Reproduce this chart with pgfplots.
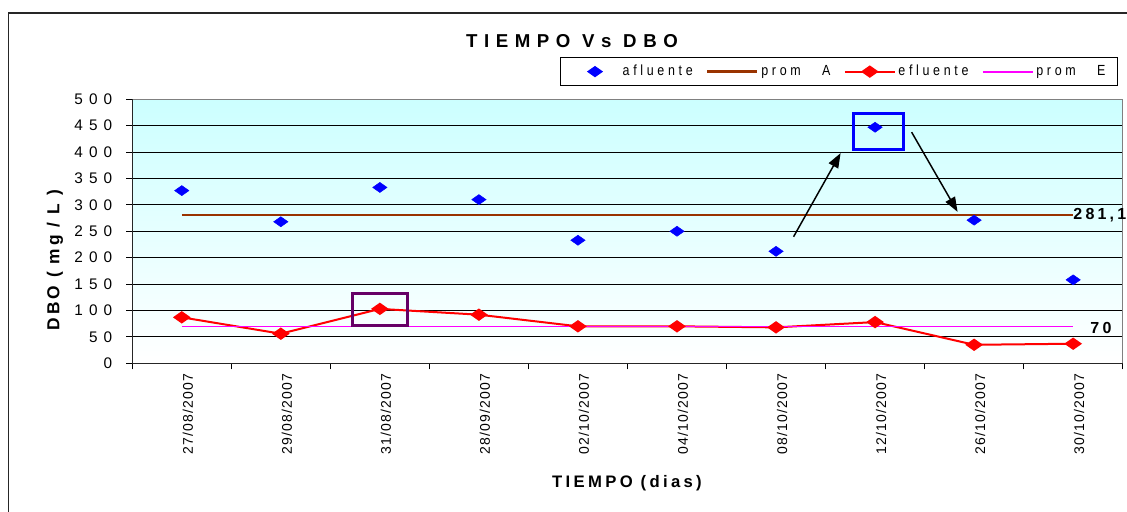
\documentclass[border=0pt]{standalone}
\usepackage{fontspec}
\setmainfont{Liberation Sans}
\newfontfamily\tickf[LetterSpace=40]{Liberation Sans}
\newfontfamily\dataf[LetterSpace=20]{Liberation Sans}
\newfontfamily\datef[LetterSpace=8]{Liberation Sans}
\newfontfamily\titf[LetterSpace=35]{Liberation Sans}
\newfontfamily\labf[LetterSpace=20]{Liberation Sans}
\newfontfamily\ylabf[LetterSpace=18]{Liberation Sans}
\newfontfamily\legf[LetterSpace=25,FakeStretch=0.85,WordSpace=3]{Liberation Sans}
\usepackage{pgfplots}
\pgfplotsset{compat=1.18}
\usetikzlibrary{arrows.meta}
\definecolor{cyantop}{RGB}{204,255,255}
\definecolor{promA}{RGB}{153,51,0}
\definecolor{purp}{RGB}{102,0,102}
\definecolor{frame}{RGB}{128,128,128}
\definecolor{promE}{RGB}{255,0,255}
\pgfplotsset{
  linelegend/.style={legend image code/.code={\draw[mark repeat=2,mark phase=2,##1] plot coordinates {(0pt,0pt) (18.75pt,0pt) (37.5pt,0pt)};}},
  pinklegend/.style={legend image code/.code={\draw[##1, draw=promE, line width=1.4pt] (0pt,0pt) -- (37.5pt,0pt);}},
  marklegend/.style={legend image code/.code={\path[draw=none] (0pt,0pt) -- (37.5pt,0pt); \draw[##1] plot coordinates {(18.75pt,0pt)};}},
}
\begin{document}
\begin{tikzpicture}
\path[use as bounding box] (0pt,0pt) rectangle (845.25pt,383.25pt);
\draw[line width=0.9pt, black!85] (6.4pt,-5pt) -- (6.4pt,373.5pt) -- (850pt,373.5pt);
\node[font=\titf\bfseries\fontsize{14}{16}\selectfont] at (429pt,352.1pt) {TIEMPO Vs DBO};
\begin{axis}[
  at={(99.2pt,110.8pt)}, anchor=south west,
  scale only axis, width=742.8pt, height=198pt,
  xmin=-0.5, xmax=9.5, ymin=0, ymax=500,
  clip=false,
  axis background/.style={top color=cyantop, bottom color=white},
  axis line style={draw=frame, line width=1pt},
  ytick={0,50,...,500},
  xtick={0,...,9},
  xticklabels={27/08/2007,29/08/2007,31/08/2007,28/09/2007,02/10/2007,04/10/2007,08/10/2007,12/10/2007,26/10/2007,30/10/2007},
  minor xtick={-0.5,0.5,...,9.5},
  major x tick style={draw=none},
  tick pos=left,
  tick align=outside,
  major tick length=4.5pt, minor tick length=4.5pt,
  every tick/.append style={black, line width=0.8pt},
  ymajorgrids, major grid style={black, line width=0.6pt},
  /pgf/number format/assume math mode=true,
  yticklabel style={font=\tickf\fontsize{11.5}{13}\selectfont, xshift=-7pt},
  xticklabel style={rotate=90, anchor=east, yshift=-4.5pt, font=\datef\fontsize{10.5}{12}\selectfont},
  xlabel={TIEMPO (dias)},
  ylabel={DBO ( mg / L )},
  xlabel style={at={(axis description cs:0.4995,-0.453)}, anchor=center, font=\labf\bfseries\fontsize{12.5}{14}\selectfont},
  ylabel style={at={(axis description cs:-0.078,0.39)}, anchor=center, font=\ylabf\bfseries\fontsize{13}{15}\selectfont},
  legend columns=4,
  legend style={at={(0.9953,1.161)}, anchor=north east, draw=black, line width=0.8pt, fill=white,
    font=\legf\fontsize{11}{12}\selectfont, inner xsep=7pt, inner ysep=4pt,
    /tikz/every even column/.append style={column sep=8pt}},
]
\draw[black!85, line width=1pt] (rel axis cs:0,1) -- (rel axis cs:0,0) -- (rel axis cs:1,0);
\addplot[only marks, mark=diamond*, mark size=3.75pt, mark options={xscale=1.9, fill=blue, draw=blue}, blue, marklegend]
 coordinates {(0,327) (1,268) (2,333) (3,310) (4,233) (5,250) (6,212) (7,447) (8,271) (9,158)};
\addlegendentry{afluente}
\addplot[promA, line width=2pt, mark=none, linelegend] coordinates {(0,281.1) (9,281.1)};
\addlegendentry{prom A}
\addplot[red, line width=1.5pt, mark=diamond*, mark size=3.75pt, mark options={xscale=1.9, fill=red, draw=red, solid}, linelegend]
 coordinates {(0,87) (1,56) (2,103) (3,92) (4,70) (5,70) (6,68) (7,78) (8,35) (9,37)};
\addlegendentry{efluente}
\addplot[promE, line width=1.2pt, mark=none, pinklegend] coordinates {(0,70) (9,70)};
\addlegendentry{prom E}
\node[anchor=west, inner sep=0pt, font=\dataf\bfseries\fontsize{12}{13}\selectfont] at (axis cs:9,281.1) {281,1};
\node[anchor=west, inner sep=0pt, xshift=12.75pt, yshift=-1.5pt, font=\dataf\bfseries\fontsize{12}{13}\selectfont] at (axis cs:9,70) {70};
\draw[purp, line width=2.25pt] (axis cs:1.722,71.7) rectangle (axis cs:2.278,132);
\draw[blue, line width=2.25pt] (axis cs:6.783,405.7) rectangle (axis cs:7.288,473.6);
\draw[black, line width=1.1pt, -{Triangle[length=11pt,width=8pt]}] (axis cs:6.177,239.6) -- (axis cs:6.652,398);
\draw[black, line width=1.1pt, -{Triangle[length=11pt,width=8pt]}] (axis cs:7.369,437.7) -- (axis cs:7.833,286.8);
\end{axis}
\end{tikzpicture}
\end{document}
